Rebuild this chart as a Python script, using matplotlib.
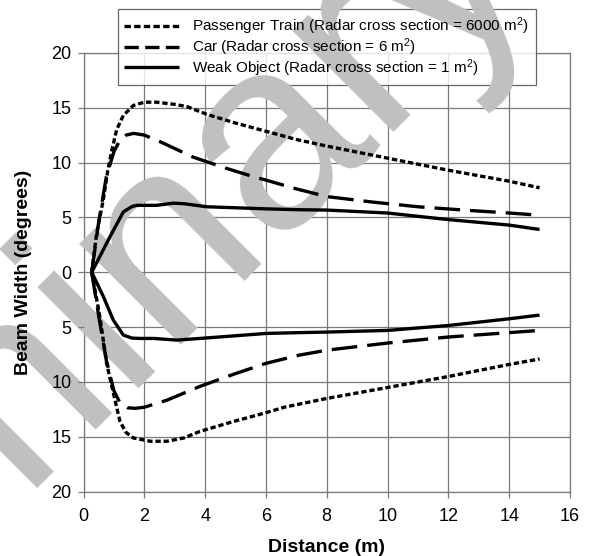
import matplotlib
matplotlib.use("Agg")
import matplotlib.pyplot as plt
from matplotlib.lines import Line2D

plt.rcParams['font.family'] = ['Liberation Sans', 'DejaVu Sans']
plt.rcParams['mathtext.fontset'] = 'custom'
plt.rcParams['mathtext.rm'] = 'Liberation Sans'
plt.rcParams['mathtext.it'] = 'Liberation Sans:italic'
plt.rcParams['mathtext.bf'] = 'Liberation Sans:bold'
plt.rcParams['mathtext.default'] = 'regular'

# Beam width envelopes (degrees) versus distance (m)
train_upper_x = [0.27, 0.43, 0.65, 0.8, 0.93, 1.09, 1.31, 1.64, 2.0, 2.4, 3.0, 3.4, 4.05, 5.0, 5.8, 7.0, 8.0, 10.0, 12.0, 14.0, 15.0]
train_upper_y = [0.0, 3.5, 6.6, 9.3, 11.1, 13.0, 14.3, 15.2, 15.5, 15.5, 15.3, 15.1, 14.4, 13.6, 13.0, 12.1, 11.5, 10.4, 9.3, 8.3, 7.7]
train_lower_x = [0.27, 0.54, 0.76, 0.98, 1.2, 1.4, 1.64, 2.2, 2.75, 3.3, 3.83, 4.93, 6.0, 6.6, 8.0, 10.0, 12.0, 14.0, 15.0]
train_lower_y = [0.0, -4.1, -8.3, -11.0, -13.6, -14.6, -15.1, -15.4, -15.4, -15.1, -14.5, -13.6, -12.8, -12.3, -11.5, -10.5, -9.5, -8.4, -7.9]

car_upper_x = [0.27, 0.5, 0.75, 1.0, 1.2, 1.4, 1.65, 2.0, 2.52, 3.6, 4.7, 5.6, 6.0, 7.0, 8.0, 9.5, 11.0, 12.5, 14.0, 15.0]
car_upper_y = [0.0, 4.6, 8.7, 11.0, 12.05, 12.5, 12.66, 12.5, 11.9, 10.5, 9.47, 8.7, 8.4, 7.6, 6.9, 6.4, 5.97, 5.67, 5.4, 5.2]
car_lower_x = [0.27, 0.5, 0.75, 1.0, 1.2, 1.45, 1.7, 2.0, 2.75, 3.83, 4.93, 6.0, 7.1, 8.0, 10.0, 12.0, 14.0, 15.0]
car_lower_y = [0.0, -4.0, -8.0, -10.8, -11.9, -12.35, -12.4, -12.3, -11.65, -10.4, -9.3, -8.3, -7.55, -7.1, -6.45, -5.9, -5.5, -5.3]

weak_upper_x = [0.27, 0.87, 1.31, 1.6, 1.75, 2.4, 2.96, 3.3, 4.05, 6.0, 7.1, 8.0, 10.0, 12.0, 14.0, 15.0]
weak_upper_y = [0.0, 3.24, 5.5, 6.0, 6.1, 6.1, 6.3, 6.25, 5.97, 5.78, 5.7, 5.67, 5.4, 4.8, 4.3, 3.9]
weak_lower_x = [0.27, 0.65, 0.98, 1.31, 1.6, 1.86, 2.3, 3.07, 3.83, 6.03, 7.13, 8.0, 10.0, 12.0, 14.0, 15.0]
weak_lower_y = [0.0, -2.2, -4.36, -5.73, -6.0, -6.03, -6.03, -6.18, -6.03, -5.57, -5.5, -5.45, -5.3, -4.85, -4.24, -3.9]

series_labels = [
    "Passenger Train (Radar cross section = 6000 $m^{2}$)",
    "Car (Radar cross section = 6 $m^{2}$)",
    "Weak Object (Radar cross section = 1 $m^{2}$)",
]

x_ticks = [0, 2, 4, 6, 8, 10, 12, 14, 16]
y_ticks = [-20, -15, -10, -5, 0, 5, 10, 15, 20]
y_tick_labels = ["20", "15", "10", "5", "0", "5", "10", "15", "20"]

fig = plt.figure(figsize=(5.89, 5.56), dpi=100)
ax = fig.add_axes([0.1418, 0.1156, 0.8259, 0.7894])

grid_color = "#7a7a7a"
for xv in x_ticks:
    ax.axvline(xv, color=grid_color, lw=0.9, zorder=1)
for yv in y_ticks:
    ax.axhline(yv, color=grid_color, lw=0.9, zorder=1)

lw = 2.4
train_style = dict(color="black", lw=lw, dashes=(1.6, 0.85), zorder=3)
car_style = dict(color="black", lw=lw, dashes=(7.7, 3.0), zorder=3)
weak_style = dict(color="black", lw=lw, solid_capstyle="butt", zorder=3)

ax.plot(train_upper_x, train_upper_y, **train_style)
ax.plot(train_lower_x, train_lower_y, **train_style)
ax.plot(car_upper_x, car_upper_y, **car_style)
ax.plot(car_lower_x, car_lower_y, **car_style)
ax.plot(weak_upper_x, weak_upper_y, **weak_style)
ax.plot(weak_lower_x, weak_lower_y, **weak_style)

ax.set_xlim(0, 16)
ax.set_ylim(-20, 20)
ax.set_xticks(x_ticks)
ax.set_yticks(y_ticks)
ax.set_yticklabels(y_tick_labels)
ax.tick_params(axis="both", labelsize=13, length=4, width=0.9, color=grid_color, direction="out")
ax.tick_params(axis="x", pad=8)
ax.tick_params(axis="y", pad=4.5)
ax.xaxis.set_zorder(4)
ax.yaxis.set_zorder(4)
for sp in ax.spines.values():
    sp.set_color(grid_color)
    sp.set_linewidth(0.9)
    sp.set_zorder(1.1)

ax.set_xlabel("Distance (m)", fontsize=14, fontweight="bold", labelpad=10)
ax.set_ylabel("Beam Width (degrees)", fontsize=14, fontweight="bold", labelpad=14)

# Legend handles with their own dash patterns
handles = [
    Line2D([], [], color="black", lw=lw, dashes=(1.9, 1.0)),
    Line2D([], [], color="black", lw=lw, dashes=(4.3, 1.9)),
    Line2D([], [], color="black", lw=lw, solid_capstyle="butt"),
]
legend_kw = dict(
    loc="upper left", bbox_to_anchor=(118 / 589, 1 - 9 / 556),
    bbox_transform=fig.transFigure, fontsize=11.0, handlelength=3.6,
    handletextpad=0.85, labelspacing=-0.05, borderpad=0.42, borderaxespad=0,
    fancybox=False,
)
# frame only, below the watermark
leg_back = ax.legend(handles, series_labels, frameon=True, **legend_kw)
leg_back.get_frame().set_edgecolor("#404040")
leg_back.get_frame().set_linewidth(0.9)
for t in leg_back.get_texts():
    t.set_alpha(0)
for h in leg_back.legend_handles:
    h.set_alpha(0)
leg_back.set_zorder(1.2)
ax.add_artist(leg_back)
# text and samples, above the watermark
leg_front = ax.legend(handles, series_labels, frameon=False, **legend_kw)
leg_front.set_zorder(6)

ax.text(6 / 589, 1 - 398 / 556, "Preliminary", transform=fig.transFigure, rotation=45,
        rotation_mode="anchor", ha="center", va="center", fontsize=195,
        color="#c0c0c0", zorder=2, clip_on=False)

fig.savefig("out.png", dpi=100)
